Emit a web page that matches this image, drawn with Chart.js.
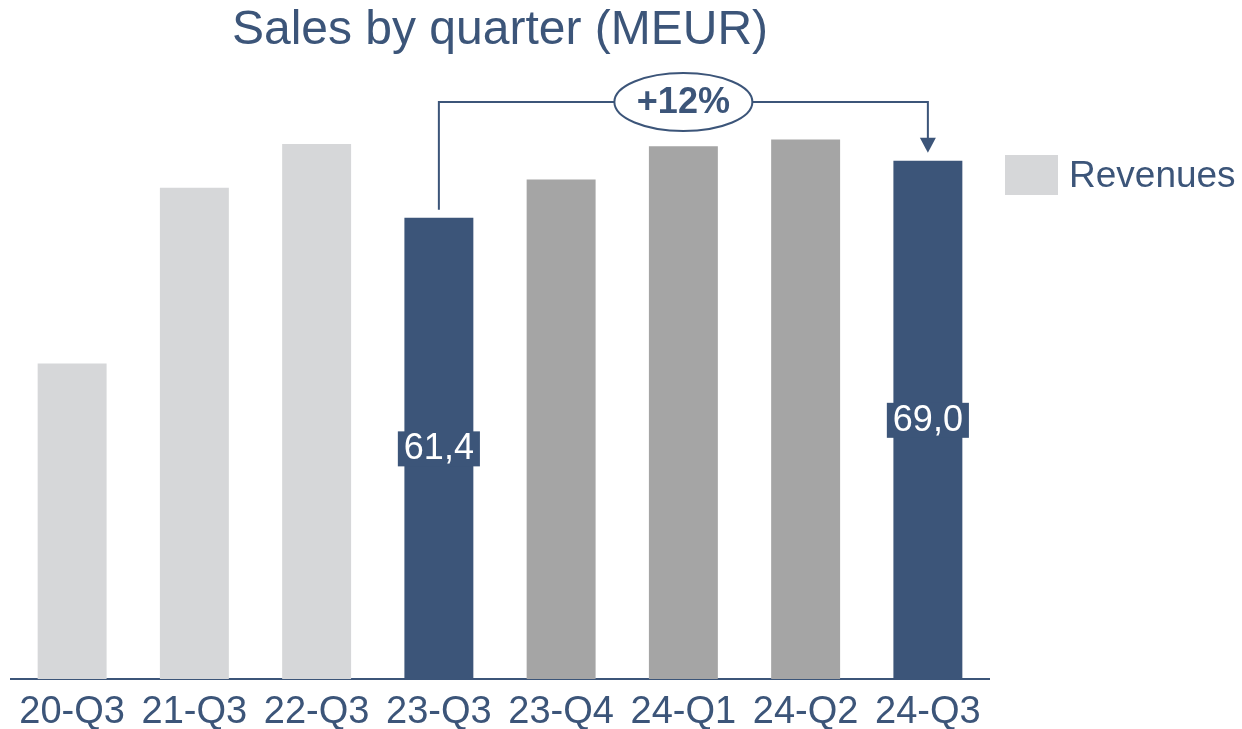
<!DOCTYPE html>
<html lang="en">
<head>
    <meta charset="UTF-8">
    <title>Sales by quarter</title>
    <script src="https://cdn.jsdelivr.net/npm/chart.js"></script>
    <style>
        body { margin: 0; background: #fff; }
        #wrap { width: 1242px; height: 729px; }
    </style>
</head>
<body>
    <div id="wrap"><canvas id="sales-chart"></canvas></div>

    <script>
        // quarters and revenues (MEUR)
        const quarters = ['20-Q3', '21-Q3', '22-Q3', '23-Q3', '23-Q4', '24-Q1', '24-Q2', '24-Q3'];
        const revenues = [42.0, 65.4, 71.2, 61.4, 66.5, 70.9, 71.8, 69.0];
        // quarters compared in the callout
        const compareFrom = '23-Q3';
        const compareTo = '24-Q3';

        const NAVY = '#3c5579';
        const LIGHT = '#d6d7d9';
        const MID = '#a5a5a5';
        const FONT = '"Liberation Sans", Arial, sans-serif';

        const iFrom = quarters.indexOf(compareFrom);
        const iTo = quarters.indexOf(compareTo);
        const barColors = quarters.map((q, i) => {
            if (i === iFrom || i === iTo) return NAVY;
            if (i > iFrom && i < iTo) return MID;
            return LIGHT;
        });

        const fmt = v => v.toFixed(1).replace('.', ',');

        const extras = {
            id: 'extras',
            afterDraw(chart) {
                const ctx = chart.ctx;
                const area = chart.chartArea;
                const bars = chart.getDatasetMeta(0).data;
                ctx.save();

                // title
                ctx.fillStyle = NAVY;
                ctx.font = '48px ' + FONT;
                ctx.textAlign = 'center';
                ctx.textBaseline = 'middle';
                ctx.fillText('Sales by quarter (MEUR)', (area.left + area.right) / 2, 31);

                // legend
                ctx.fillStyle = LIGHT;
                ctx.fillRect(1005, 155, 53, 40);
                ctx.fillStyle = NAVY;
                ctx.font = '37px ' + FONT;
                ctx.textAlign = 'left';
                ctx.fillText('Revenues', 1069, 177);

                // value labels on the compared bars
                [iFrom, iTo].forEach(i => {
                    const b = bars[i];
                    const txt = fmt(revenues[i]);
                    ctx.font = '36px ' + FONT;
                    const w = ctx.measureText(txt).width + 12;
                    const cy = (b.y + b.base) / 2;
                    ctx.fillStyle = NAVY;
                    ctx.fillRect(b.x - w / 2, cy - 17, w, 35);
                    ctx.fillStyle = '#fff';
                    ctx.textAlign = 'center';
                    ctx.fillText(txt, b.x, cy + 1);
                });

                // growth callout
                const a = bars[iFrom], b = bars[iTo];
                const lineY = 102;
                const cx = (a.x + b.x) / 2;
                const rx = 69, ry = 29;
                ctx.strokeStyle = NAVY;
                ctx.lineWidth = 2;
                ctx.beginPath();
                ctx.moveTo(a.x, a.y - 8);
                ctx.lineTo(a.x, lineY);
                ctx.lineTo(cx - rx, lineY);
                ctx.moveTo(cx + rx, lineY);
                ctx.lineTo(b.x, lineY);
                ctx.lineTo(b.x, b.y - 22);
                ctx.stroke();
                ctx.beginPath();
                ctx.fillStyle = NAVY;
                ctx.moveTo(b.x - 8, b.y - 23);
                ctx.lineTo(b.x + 8, b.y - 23);
                ctx.lineTo(b.x, b.y - 8);
                ctx.closePath();
                ctx.fill();
                ctx.beginPath();
                ctx.ellipse(cx, lineY, rx, ry, 0, 0, Math.PI * 2);
                ctx.fillStyle = '#fff';
                ctx.fill();
                ctx.stroke();
                const pct = Math.round((revenues[iTo] / revenues[iFrom] - 1) * 100);
                ctx.fillStyle = NAVY;
                ctx.font = 'bold 36px ' + FONT;
                ctx.textAlign = 'center';
                ctx.fillText('+' + pct + '%', cx, lineY + 1);

                ctx.restore();
            }
        };

        new Chart(document.getElementById('sales-chart'), {
            type: 'bar',
            data: {
                labels: quarters,
                datasets: [{
                    label: 'Revenues',
                    data: revenues,
                    backgroundColor: barColors,
                    categoryPercentage: 1,
                    barPercentage: 0.564
                }]
            },
            options: {
                responsive: true,
                maintainAspectRatio: false,
                animation: false,
                layout: { padding: { top: 78, left: 11, right: 253, bottom: 0 } },
                plugins: {
                    legend: { display: false },
                    title: { display: false },
                    tooltip: { enabled: false }
                },
                scales: {
                    x: {
                        grid: { display: false, drawTicks: false },
                        border: { display: true, color: NAVY, width: 2 },
                        ticks: {
                            color: NAVY,
                            padding: 15,
                            font: { size: 38, family: FONT, lineHeight: 1 }
                        },
                        afterFit(scale) { scale.height = 50; }
                    },
                    y: {
                        display: false,
                        min: 0,
                        max: 80
                    }
                }
            },
            plugins: [extras]
        });
    </script>
</body>
</html>
